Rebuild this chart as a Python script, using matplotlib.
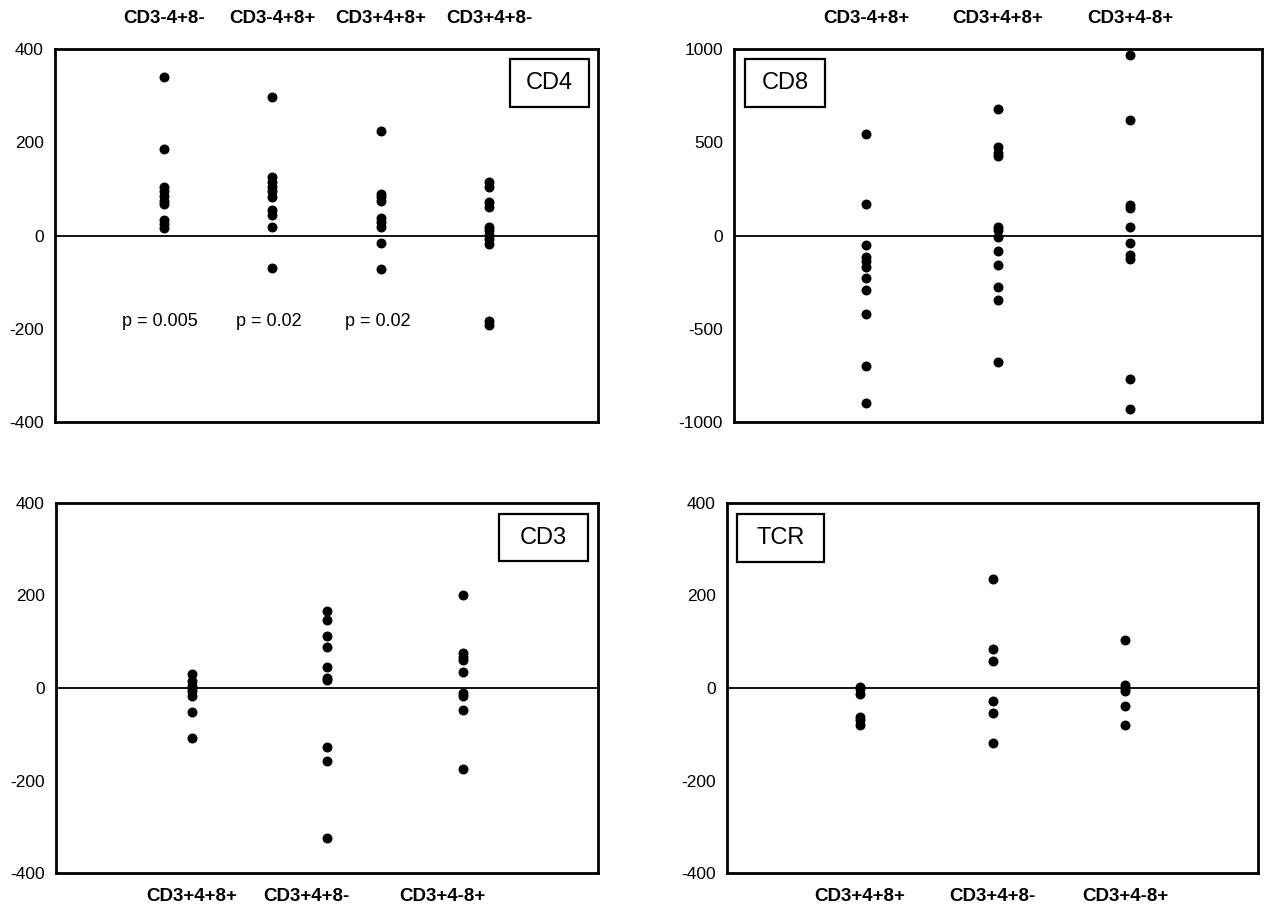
import matplotlib
matplotlib.use("Agg")
import matplotlib.pyplot as plt
from matplotlib.patches import Rectangle

plt.rcParams['font.family'] = ['Liberation Sans', 'DejaVu Sans']

# CD4 panel
cd4_groups = ["CD3-4+8-", "CD3-4+8+", "CD3+4+8+", "CD3+4+8-"]
cd4_values = [
    [340, 185, 105, 95, 85, 75, 68, 33, 25, 17],
    [298, 125, 115, 105, 95, 83, 55, 45, 19, -70],
    [225, 90, 83, 75, 37, 28, 19, -16, -72],
    [115, 105, 72, 62, 19, 11, 1, -8, -18, -184, -191],
]
cd4_pvals = ["p = 0.005", "p = 0.02", "p = 0.02"]

# CD8 panel
cd8_groups = ["CD3-4+8+", "CD3+4+8+", "CD3+4-8+"]
cd8_values = [
    [545, 170, -50, -115, -135, -170, -230, -290, -420, -700, -900],
    [680, 475, 445, 425, 45, 30, -10, -85, -160, -275, -345, -680],
    [970, 620, 165, 150, 45, -40, -105, -125, -770, -930],
]

# CD3 panel
cd3_groups = ["CD3+4+8+", "CD3+4+8-", "CD3+4-8+"]
cd3_values = [
    [30, 15, 5, 0, -7, -17, -52, -108],
    [167, 147, 112, 88, 45, 22, 17, -128, -158, -325],
    [200, 75, 67, 60, 35, -10, -17, -47, -175],
]

# TCR panel
tcr_groups = ["CD3+4+8+", "CD3+4+8-", "CD3+4-8+"]
tcr_values = [
    [3, -2, -13, -62, -70, -81],
    [236, 84, 59, -29, -55, -119],
    [103, 6, 0, -7, -38, -81],
]

fig = plt.figure(figsize=(12.67, 9.18), dpi=100)

ax1 = fig.add_axes([0.0434, 0.5403, 0.4286, 0.4063])
ax2 = fig.add_axes([0.5793, 0.5403, 0.4167, 0.4063])
ax3 = fig.add_axes([0.0442, 0.049, 0.4278, 0.4031])
ax4 = fig.add_axes([0.5738, 0.049, 0.4191, 0.4031])


def draw_panel(ax, groups, values, ylim, yticks, name, box, top_labels, label_pos=None):
    n = len(groups)
    for i, vals in enumerate(values):
        ax.scatter([i + 1] * len(vals), vals, s=38, color="black", zorder=3)
    ax.axhline(0, color="black", lw=1.3, zorder=2)
    ax.set_xlim(0, n + 1)
    ax.set_ylim(*ylim)
    ax.set_yticks(yticks)
    ax.set_yticklabels([str(t) for t in yticks], fontsize=12.5)
    ax.tick_params(axis="y", length=0, pad=8)
    if label_pos is None:
        label_pos = list(range(1, n + 1))
    ax.set_xticks(label_pos)
    ax.set_xticklabels(groups, fontsize=13.5, fontweight="bold")
    if top_labels:
        ax.xaxis.tick_top()
        ax.tick_params(axis="x", length=0, pad=16)
    else:
        ax.tick_params(axis="x", length=0, pad=11)
    for sp in ax.spines.values():
        sp.set_linewidth(2.0)
    x0, y0, x1, y1 = box
    ax.add_patch(Rectangle((x0, y0), x1 - x0, y1 - y0, transform=ax.transAxes,
                           fill=False, edgecolor="black", lw=1.6, zorder=4))
    ax.text((x0 + x1) / 2, (y0 + y1) / 2, name, transform=ax.transAxes,
            ha="center", va="center", fontsize=17, zorder=5)


draw_panel(ax1, cd4_groups, cd4_values, (-400, 400), [-400, -200, 0, 200, 400],
           "CD4", (0.838, 0.845, 0.983, 0.972), True)
for i, p in enumerate(cd4_pvals):
    ax1.text(i + 0.97, -185, p, ha="center", va="center", fontsize=13)

draw_panel(ax2, cd8_groups, cd8_values, (-1000, 1000), [-1000, -500, 0, 500, 1000],
           "CD8", (0.021, 0.845, 0.172, 0.972), True)

draw_panel(ax3, cd3_groups, cd3_values, (-400, 400), [-400, -200, 0, 200, 400],
           "CD3", (0.818, 0.843, 0.981, 0.969), False, label_pos=[1.0, 1.85, 2.85])

draw_panel(ax4, tcr_groups, tcr_values, (-400, 400), [-400, -200, 0, 200, 400],
           "TCR", (0.018, 0.841, 0.183, 0.969), False)

fig.savefig("out.png", dpi=100)
